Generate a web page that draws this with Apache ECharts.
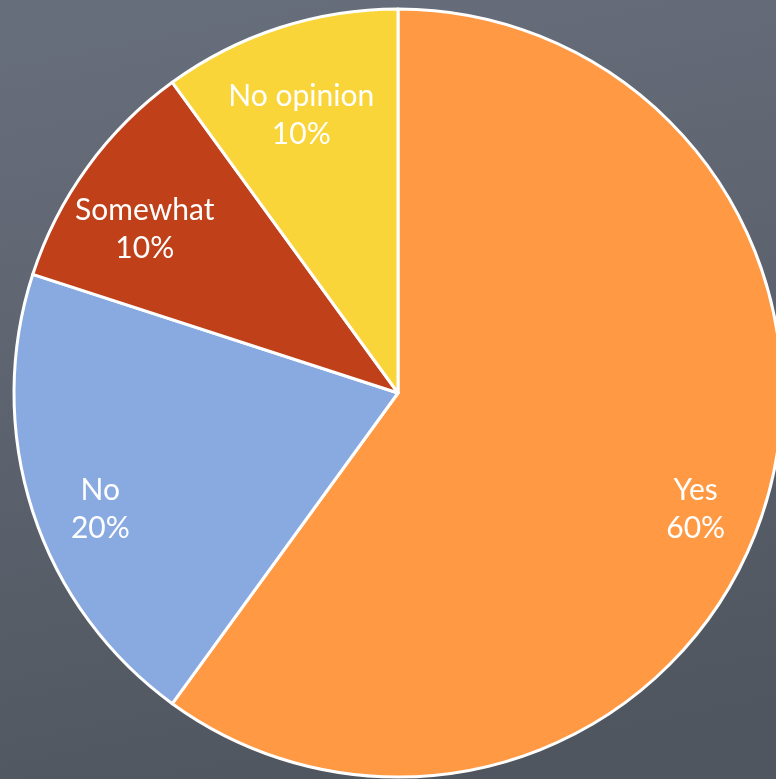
<!DOCTYPE html>
<html>
<head>
<meta charset="utf-8">
<script src="https://cdn.jsdelivr.net/npm/echarts@6/dist/echarts.min.js"></script>
<style>
html,body{margin:0;padding:0;background:#5c636f;}
#chart{width:776px;height:779px;}
</style>
</head>
<body>
<div id="chart"></div>
<script>
const categories = ['Yes', 'No', 'Somewhat', 'No opinion'];
const values = [60, 20, 10, 10];
const colors = ['#FF9944', '#88AAE0', '#C0401A', '#F9D539'];

const chart = echarts.init(document.getElementById('chart'));
const sliceData = categories.map((c, i) => ({ name: c, value: values[i], itemStyle: { color: colors[i] } }));
const labelData = categories.map((c, i) => ({ name: c, value: values[i] }));

chart.setOption({
  backgroundColor: {
    type: 'linear', x: 0.3, y: 0, x2: 0.5, y2: 1,
    colorStops: [{ offset: 0, color: '#676e7b' }, { offset: 1, color: '#50565f' }]
  },
  animation: false,
  series: [
    {
      type: 'pie',
      center: [398, 393],
      radius: [0, 384],
      startAngle: 90,
      clockwise: true,
      label: { show: false },
      labelLine: { show: false },
      itemStyle: { borderColor: '#ffffff', borderWidth: 3 },
      emphasis: { disabled: true },
      data: sliceData
    },
    {
      type: 'pie',
      center: [398, 393],
      radius: [236, 384],
      startAngle: 90,
      clockwise: true,
      silent: true,
      itemStyle: { color: 'rgba(0,0,0,0)', borderWidth: 0 },
      label: {
        show: true,
        position: 'inside',
        formatter: '{b}\n{d}%',
        color: '#ffffff',
        fontFamily: 'Lato',
        fontSize: 30,
        lineHeight: 38,
        align: 'center',
        offset: [0, 20]
      },
      labelLine: { show: false },
      emphasis: { disabled: true },
      data: labelData
    }
  ]
});
</script>
</body>
</html>
